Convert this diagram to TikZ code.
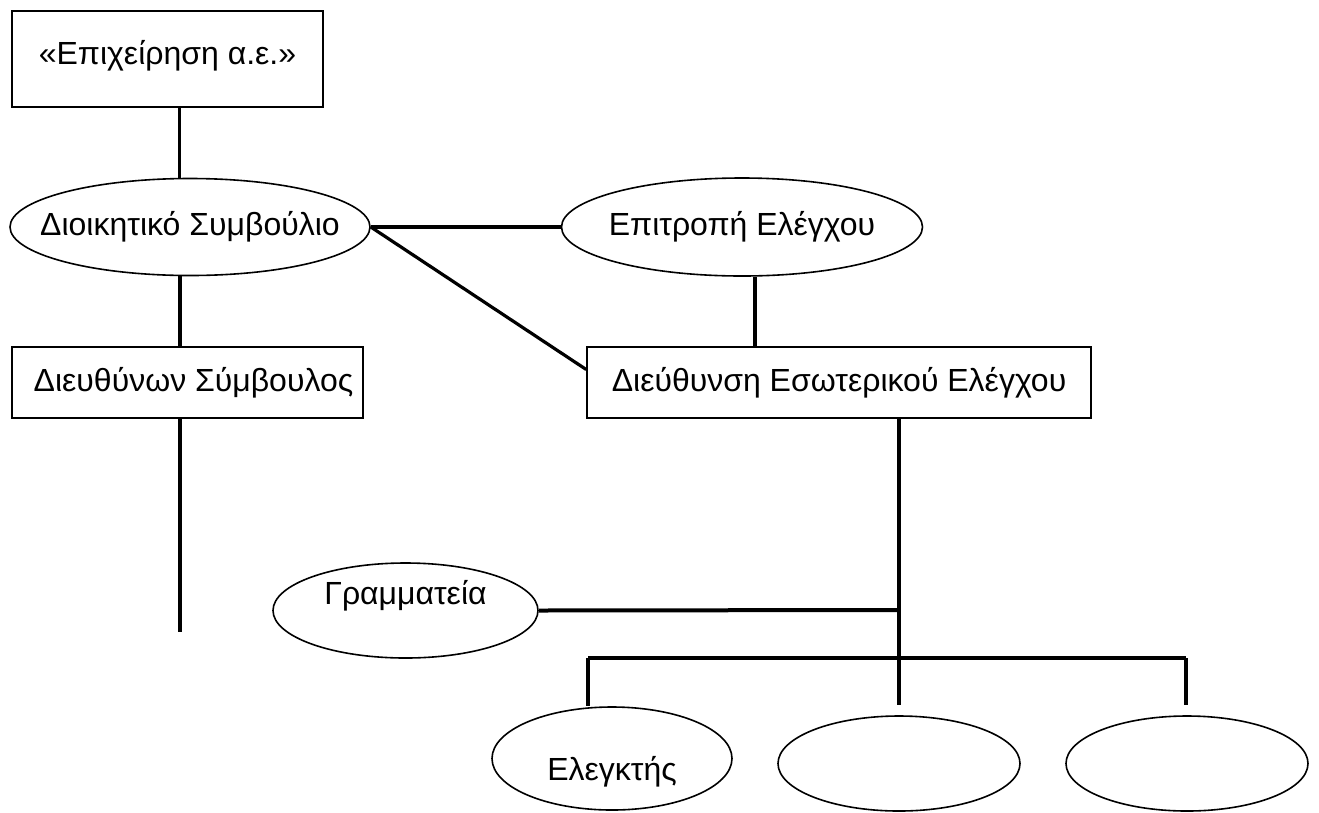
\documentclass[tikz,border=0pt]{standalone}
\usepackage{fontspec}
\setmainfont{Liberation Sans}
\usetikzlibrary{shapes.geometric,calc}

\begin{document}
\begin{tikzpicture}[x=1pt, y=-1pt, font=\fontsize{32}{38}\selectfont,
  box/.style={draw, line width=1.6pt, inner sep=0pt, fill=white},
  oval/.style={draw, ellipse, line width=1.6pt, inner xsep=-30pt, inner ysep=0pt, fill=white},
  link/.style={line width=3.2pt},
  bus/.style={line width=4pt}]
\useasboundingbox (0,0) rectangle (1319,812);
\node[box, minimum width=311pt, minimum height=96pt, text depth=14pt] (firm) at (167.5,59) {«Επιχείρηση α.ε.»};
\node[oval, minimum width=360pt, minimum height=97pt] (board) at (190,227) {Διοικητικό Συμβούλιο};
\node[box, minimum width=351pt, minimum height=71pt] (ceo) at (187.5,382.5) {\hspace*{12pt}Διευθύνων Σύμβουλος};
\node[oval, minimum width=361pt, minimum height=98pt] (committee) at (742,227) {Επιτροπή Ελέγχου};
\node[box, minimum width=504pt, minimum height=71pt] (audit) at (839,382.5) {Διεύθυνση Εσωτερικού Ελέγχου};
\node[oval, minimum width=265pt, minimum height=95pt, text depth=36pt] (secretariat) at (405.5,610.5) {Γραμματεία};
\node[oval, minimum width=240pt, minimum height=103pt, text height=50pt, text depth=7pt] (auditor) at (612,758.5) {Ελεγκτής};
\node[oval, minimum width=242pt, minimum height=95pt] (unit2) at (899,763.5) {};
\node[oval, minimum width=242pt, minimum height=95pt] (unit3) at (1187,763.5) {};
\coordinate (ceoEnd) at (180,632);
\coordinate (split) at (899,610);
\coordinate (busL) at (588,658);
\coordinate (busM) at (899,658);
\coordinate (busR) at (1186,658);
% left chain
\draw[link] ([xshift=12pt]firm.south) -- ([xshift=12pt]firm.south |- board.north);
\draw[link] ([xshift=-10pt]board.south) -- ([xshift=-10pt]board.south |- ceo.north);
\draw[link] ([xshift=-7.5pt]ceo.south) -- (ceoEnd);
% board to audit side
\draw[link] (board.east) -- (committee.west);
\draw[link] (board.east) -- ($(audit.west)+(0,-13)$);
\draw[link] ([xshift=13pt]committee.south) -- ([xshift=13pt]committee.south |- audit.north);
% internal audit units
\draw[link] (audit.south -| busM) -- ($(busM |- unit2.north)+(0,-10)$);
\draw[bus] (secretariat.east) -- (split);
\draw[bus] (busL) -- (busR);
\draw[link] (busL) -- (busL |- auditor.north);
\draw[link] (busR) -- ($(busR |- unit3.north)+(0,-10)$);
\end{tikzpicture}
\end{document}
